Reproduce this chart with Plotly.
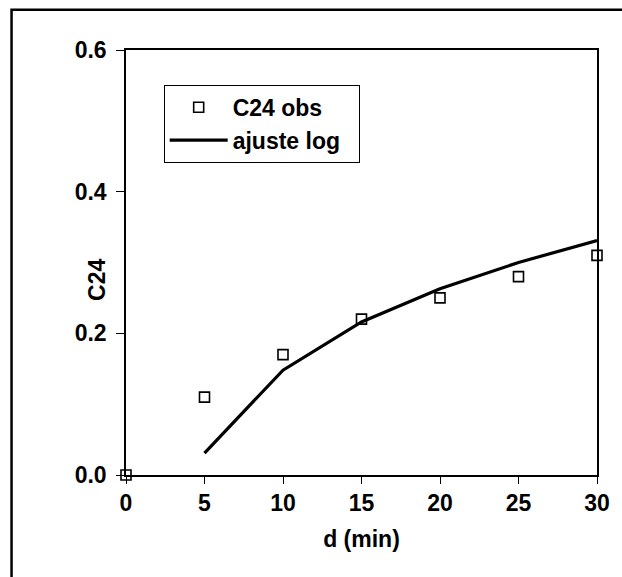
import plotly.graph_objects as go

d_obs = [0, 5, 10, 15, 20, 25, 30]
c24_obs = [0.0, 0.11, 0.17, 0.22, 0.25, 0.28, 0.31]
d_fit = [5, 10, 15, 20, 25, 30]
c24_fit = [0.031, 0.148, 0.216, 0.263, 0.300, 0.331]
x_ticks = [0, 5, 10, 15, 20, 25, 30]
y_ticks = [0.0, 0.2, 0.4, 0.6]
y_ticklabels = ["0.0", "0.2", "0.4", "0.6"]

FONT = "Liberation Sans, Arial, sans-serif"
FS = 23

fig = go.Figure()
fig.add_trace(go.Scatter(
    x=d_obs, y=c24_obs, mode="markers", name="<b>C24 obs</b>\u00a0\u00a0",
    marker=dict(symbol="square-open", size=10, color="black", line=dict(width=1.6, color="black")),
    cliponaxis=False,
))
fig.add_trace(go.Scatter(
    x=d_fit, y=c24_fit, mode="lines", name="<b>ajuste log</b>\u00a0\u00a0",
    line=dict(color="black", width=3.2),
))

fig.update_layout(
    width=622, height=577,
    margin=dict(l=126, r=19, t=50, b=102),
    paper_bgcolor="white", plot_bgcolor="white",
    font=dict(family=FONT, size=FS, color="black"),
    showlegend=True,
    legend=dict(
        x=0.08, y=0.918, xanchor="left", yanchor="top",
        bordercolor="black", borderwidth=1, bgcolor="white",
        font=dict(family=FONT, size=FS, color="black"),
        tracegroupgap=2, itemwidth=58,
    ),
    xaxis=dict(
        range=[0, 30], tickvals=x_ticks, ticktext=["<b>%d</b>" % v for v in x_ticks],
        showgrid=False, zeroline=False, showline=True, linecolor="black", linewidth=1.5,
        mirror=True, ticks="outside", ticklen=7, tickcolor="black", tickwidth=1,
        tickfont=dict(family=FONT, size=FS),
        title=dict(text="<b>d (min)</b>", font=dict(family=FONT, size=FS), standoff=16),
    ),
    yaxis=dict(
        range=[0, 0.6], tickvals=y_ticks, ticktext=["<b>%s</b>" % t for t in y_ticklabels],
        showgrid=False, zeroline=False, showline=True, linecolor="black", linewidth=1.5,
        mirror=True, ticks="outside", ticklen=8, tickcolor="black", tickwidth=1,
        tickfont=dict(family=FONT, size=FS), ticklabelstandoff=5,
    ),
    annotations=[dict(
        text="<b>C24</b>", xref="paper", yref="paper", x=0, y=0.459,
        xanchor="center", yanchor="middle", xshift=-29, textangle=-90,
        showarrow=False, font=dict(family=FONT, size=FS, color="black"),
    )],
)

fig.add_shape(type="rect", xref="paper", yref="paper",
              x0=-0.243, x1=1.2, y0=-0.4, y1=1.095,
              line=dict(color="black", width=2.5), layer="above")

fig.write_html("out.html")
